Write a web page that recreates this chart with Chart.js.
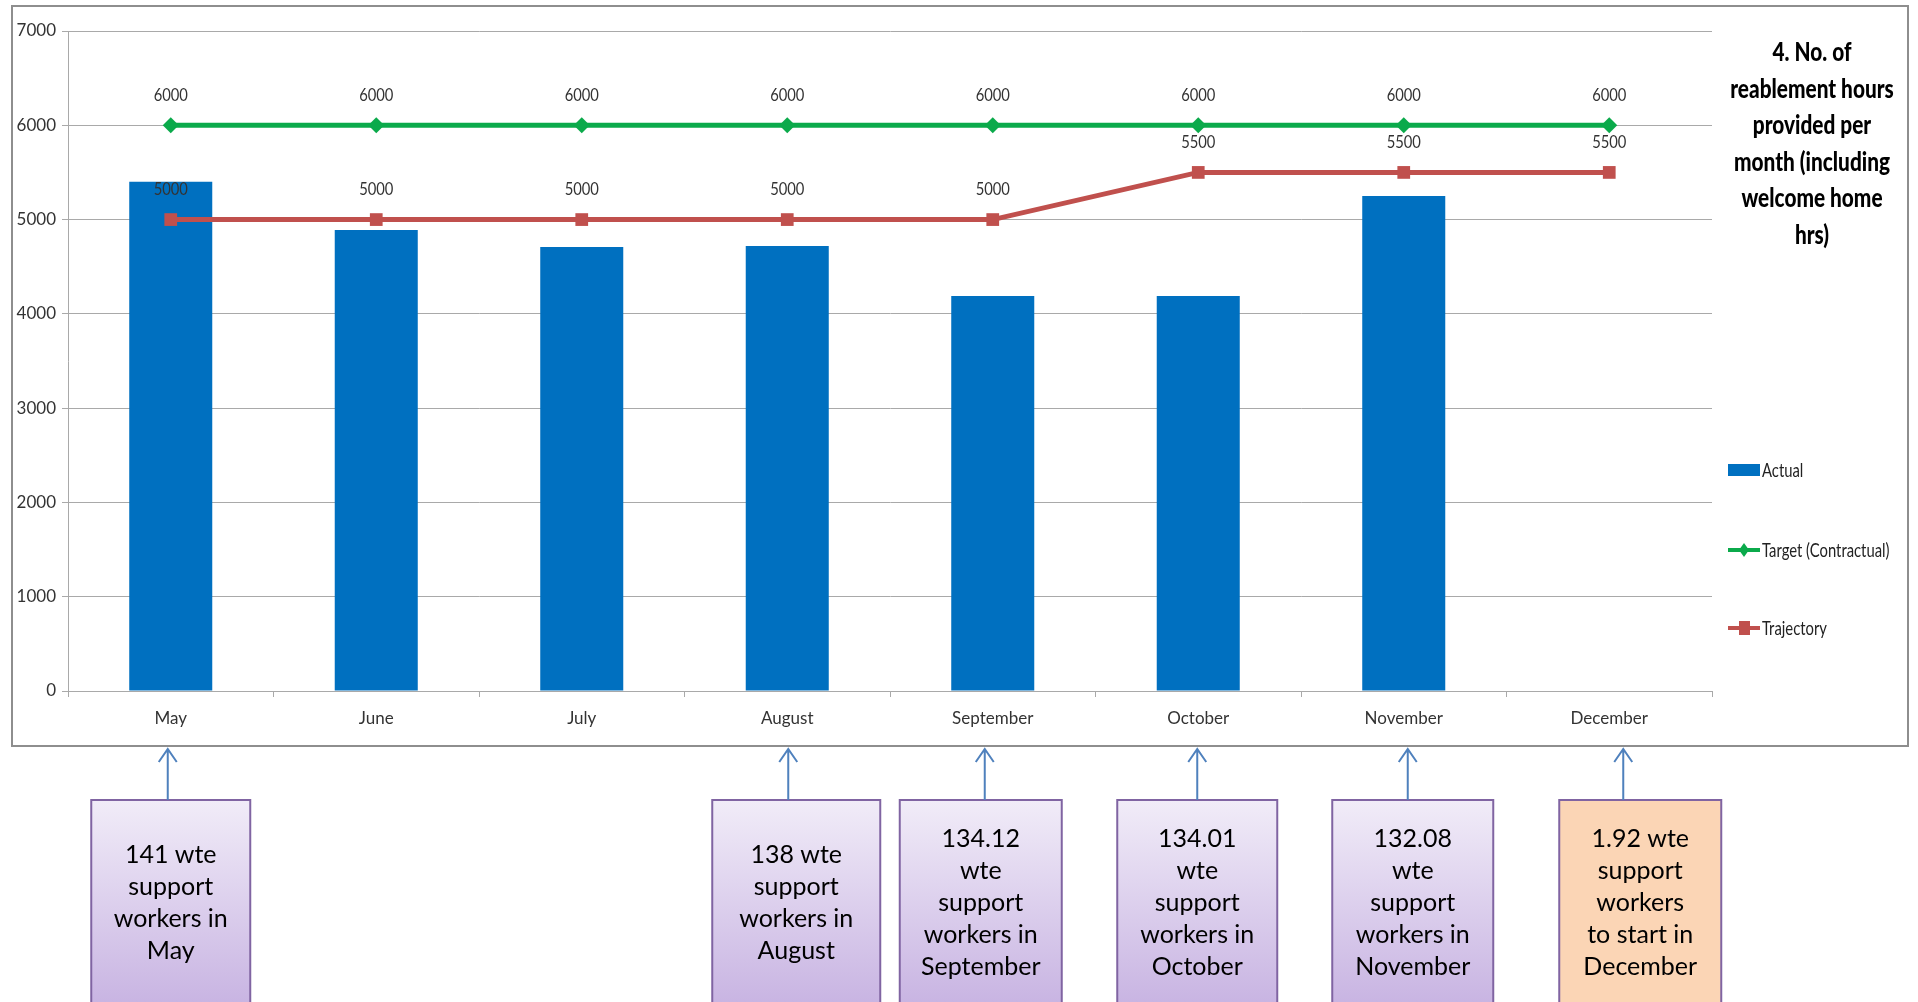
<!DOCTYPE html>
<html>
<head>
<meta charset="utf-8">
<script src="https://cdn.jsdelivr.net/npm/chart.js@4.4.1/dist/chart.umd.min.js"></script>
<style>
  html, body { margin: 0; padding: 0; background: #fff; }
  #wrap { width: 1918px; height: 1002px; }
</style>
</head>
<body>
<div id="wrap"><canvas id="myChart" width="1918" height="1002"></canvas></div>
<script>
// chart values
var months = ['May', 'June', 'July', 'August', 'September', 'October', 'November', 'December'];
var actual = [5400, 4890, 4710, 4720, 4190, 4190, 5250, null];
var target = [6000, 6000, 6000, 6000, 6000, 6000, 6000, 6000];
var trajectory = [5000, 5000, 5000, 5000, 5000, 5500, 5500, 5500];
var yTicks = [0, 1000, 2000, 3000, 4000, 5000, 6000, 7000];

var titleLines = ['4. No. of', 'reablement hours', 'provided per', 'month (including', 'welcome home', 'hrs)'];

// notes under the chart
var noteMonths = ['May', 'August', 'September', 'October', 'November', 'December'];
var noteTexts = [
    ['141 wte', 'support', 'workers in', 'May'],
    ['138 wte', 'support', 'workers in', 'August'],
    ['134.12', 'wte', 'support', 'workers in', 'September'],
    ['134.01', 'wte', 'support', 'workers in', 'October'],
    ['132.08', 'wte', 'support', 'workers in', 'November'],
    ['1.92 wte', 'support', 'workers', 'to start in', 'December']
];
// box shift / width / arrow shift relative to the month centre
var noteBoxDx = [0, 9, -12, -1, 9, 31];
var noteBoxW = [159, 168, 162, 160, 161, 162];
var noteArrowDx = [-3, 1, -8, -1, 4, 14];
var noteFill = ['purple', 'purple', 'purple', 'purple', 'purple', 'peach'];

var FONT = 'Lato, "Open Sans", sans-serif';
var GREEN = '#0BAA4B';
var RED = '#C0504D';
var BLUE = '#0070C0';
var GRID = '#A9A9A9';

// draw text squeezed sideways, like the narrow font of the original
function narrowText(ctx, txt, x, y, sx) {
    ctx.save();
    ctx.translate(x, y);
    ctx.scale(sx, 1);
    ctx.fillText(txt, 0, 0);
    ctx.restore();
}

var pageDecor = {
    id: 'pageDecor',
    beforeDraw: function(chart) {
        var ctx = chart.ctx;
        ctx.save();
        ctx.fillStyle = '#fff';
        ctx.fillRect(0, 0, chart.width, chart.height);
        ctx.strokeStyle = '#8E8E8E';
        ctx.lineWidth = 2;
        ctx.strokeRect(12, 6, 1896, 740);
        ctx.restore();
    },
    afterDatasetsDraw: function(chart) {
        // value labels over the line points
        var ctx = chart.ctx;
        ctx.save();
        ctx.font = '18px ' + FONT;
        ctx.fillStyle = '#333';
        ctx.textAlign = 'center';
        ctx.textBaseline = 'middle';
        chart.data.datasets.forEach(function(ds, i) {
            if (ds.type !== 'line') return;
            var meta = chart.getDatasetMeta(i);
            meta.data.forEach(function(pt, j) {
                narrowText(ctx, String(ds.data[j]), pt.x, pt.y - 30, 0.82);
            });
        });
        ctx.restore();
    },
    afterDraw: function(chart) {
        var ctx = chart.ctx;
        ctx.save();

        // title on the right
        ctx.font = '900 26px ' + FONT;
        ctx.fillStyle = '#000';
        ctx.textAlign = 'center';
        ctx.textBaseline = 'middle';
        for (var i = 0; i < titleLines.length; i++) {
            narrowText(ctx, titleLines[i], 1812, 53 + i * 36.5, 0.8);
        }

        // legend
        ctx.font = '19px ' + FONT;
        ctx.textAlign = 'left';
        var lx = 1728;
        var items = [
            {ds: 0, y: 470},
            {ds: 1, y: 550},
            {ds: 2, y: 628}
        ];
        items.forEach(function(it) {
            var ds = chart.data.datasets[it.ds];
            if (ds.type === 'line') {
                ctx.strokeStyle = ds.borderColor;
                ctx.lineWidth = 4;
                ctx.beginPath();
                ctx.moveTo(lx, it.y);
                ctx.lineTo(lx + 32, it.y);
                ctx.stroke();
                ctx.fillStyle = ds.borderColor;
                ctx.beginPath();
                if (ds.pointStyle === 'rectRot') {
                    ctx.moveTo(lx + 16, it.y - 7);
                    ctx.lineTo(lx + 21, it.y);
                    ctx.lineTo(lx + 16, it.y + 7);
                    ctx.lineTo(lx + 11, it.y);
                } else {
                    ctx.rect(lx + 11, it.y - 7, 11, 14);
                }
                ctx.fill();
            } else {
                ctx.fillStyle = ds.backgroundColor;
                ctx.fillRect(lx, it.y - 6, 32, 12);
            }
            ctx.fillStyle = '#222';
            narrowText(ctx, ds.label, lx + 34, it.y + 1, 0.78);
        });

        // notes with arrows below
        var xs = chart.scales.x;
        for (var n = 0; n < noteMonths.length; n++) {
            var cx = xs.getPixelForValue(months.indexOf(noteMonths[n]));
            var bx = cx + noteBoxDx[n] - noteBoxW[n] / 2;
            var by = 800;
            var bh = 215;
            var grad;
            if (noteFill[n] === 'peach') {
                grad = '#FBD5B5';
            } else {
                grad = ctx.createLinearGradient(0, by, 0, by + bh);
                grad.addColorStop(0, '#F1ECF8');
                grad.addColorStop(1, '#C6B1E1');
            }
            ctx.fillStyle = grad;
            ctx.fillRect(bx, by, noteBoxW[n], bh);
            ctx.strokeStyle = '#8064A2';
            ctx.lineWidth = 2;
            ctx.strokeRect(bx, by, noteBoxW[n], bh);

            var ax = cx + noteArrowDx[n];
            ctx.strokeStyle = '#4F81BD';
            ctx.lineWidth = 2;
            ctx.beginPath();
            ctx.moveTo(ax, by);
            ctx.lineTo(ax, 749);
            ctx.moveTo(ax - 9, 762);
            ctx.lineTo(ax, 749);
            ctx.lineTo(ax + 9, 762);
            ctx.stroke();

            ctx.fillStyle = '#000';
            ctx.font = '25px ' + FONT;
            ctx.textAlign = 'center';
            ctx.textBaseline = 'middle';
            var lines = noteTexts[n];
            var tx = bx + noteBoxW[n] / 2;
            var top = 903 - (lines.length - 1) * 32 / 2;
            for (var k = 0; k < lines.length; k++) {
                ctx.fillText(lines[k], tx, top + k * 32);
            }
        }
        ctx.restore();
    }
};

var myChart = new Chart('myChart', {
    type: 'bar',
    data: {
        labels: months,
        datasets: [
            {
                label: 'Actual',
                data: actual,
                backgroundColor: BLUE,
                categoryPercentage: 1,
                barPercentage: 0.404,
                order: 3
            },
            {
                type: 'line',
                label: 'Target (Contractual)',
                data: target,
                borderColor: GREEN,
                backgroundColor: GREEN,
                borderWidth: 5,
                pointStyle: 'rectRot',
                pointRadius: 8,
                pointBorderWidth: 0,
                order: 1
            },
            {
                type: 'line',
                label: 'Trajectory',
                data: trajectory,
                borderColor: RED,
                backgroundColor: RED,
                borderWidth: 5,
                pointStyle: 'rect',
                pointRadius: 9,
                pointBorderWidth: 0,
                order: 2
            }
        ]
    },
    options: {
        responsive: false,
        animation: false,
        layout: { padding: { left: 12, top: 31, right: 206, bottom: 256 } },
        plugins: {
            legend: { display: false },
            title: { display: false },
            tooltip: { enabled: false }
        },
        scales: {
            x: {
                grid: { offset: true, drawOnChartArea: false, drawTicks: true, tickLength: 6, color: GRID },
                border: { color: GRID, width: 1 },
                ticks: { color: '#333', font: { family: FONT, size: 17 }, padding: 11 },
                afterFit: function(s) { s.height = 55; }
            },
            y: {
                min: 0,
                max: 7000,
                afterBuildTicks: function(s) { s.ticks = yTicks.map(function(v) { return {value: v}; }); },
                grid: { color: GRID, tickLength: 6 },
                border: { color: GRID, width: 1 },
                ticks: {
                    color: '#333',
                    font: { family: FONT, size: 17 },
                    padding: 6,
                    callback: function(v) { return String(v); }
                },
                afterFit: function(s) { s.width = 56; }
            }
        }
    },
    plugins: [pageDecor]
});
</script>
</body>
</html>
